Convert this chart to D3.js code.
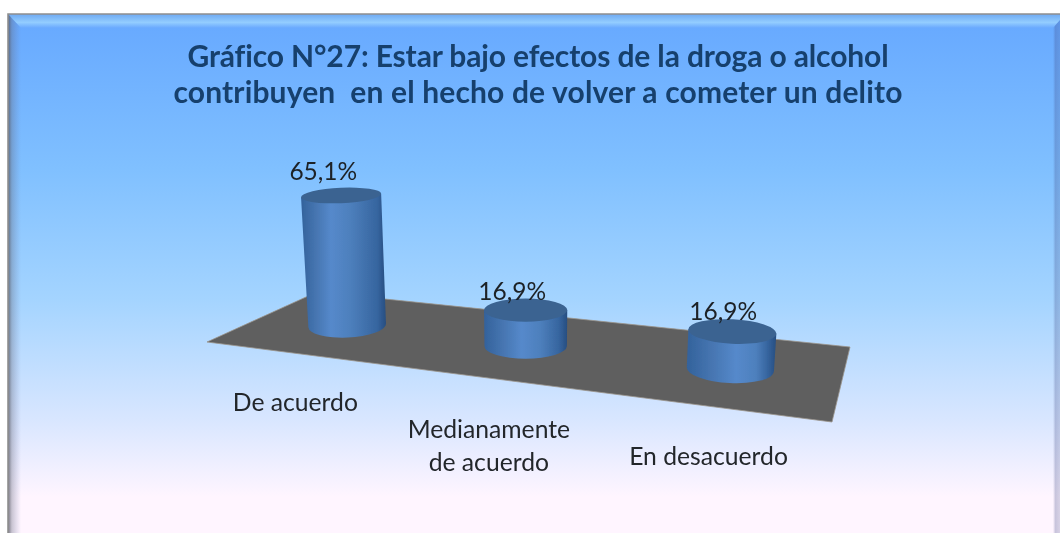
<!DOCTYPE html>
<html lang="es">
<head>
<meta charset="UTF-8">
<title>Gráfico N°27</title>
<script src="https://cdn.jsdelivr.net/npm/d3@7"></script>
<style>
    html, body { margin: 0; padding: 0; background: #fff; overflow: hidden; }
    svg { display: block; }
    text { font-family: Lato, "Open Sans", sans-serif; white-space: pre; font-variant-ligatures: none; }
</style>
</head>
<body>
<script>
const categories = ['De acuerdo', 'Medianamente de acuerdo', 'En desacuerdo']
const values = [65.1, 16.9, 16.9]
const valueLabels = ['65,1%', '16,9%', '16,9%']
const categoryLines = [['De acuerdo'], ['Medianamente', 'de acuerdo'], ['En desacuerdo']]
const titleLines = ['Gráfico N°27: Estar bajo efectos de la droga o alcohol', 'contribuyen  en el hecho de volver a cometer un delito']

const width = 1060
const height = 533

const svg = d3.select('body').append('svg').attr('width', width).attr('height', height)
const defs = svg.append('defs')

// soft look of the scaled up picture
defs.append('filter').attr('id', 'soft').append('feGaussianBlur').attr('stdDeviation', 0.45)

function addGradient(id, stops, horizontal) {
    const g = defs.append('linearGradient').attr('id', id)
        .attr('x1', 0).attr('y1', 0)
        .attr('x2', horizontal ? 1 : 0).attr('y2', horizontal ? 0 : 1)
    g.selectAll('stop').data(stops).enter().append('stop')
        .attr('offset', (d) => d[0])
        .attr('stop-color', (d) => d[1])
}

addGradient('bg', [[0, '#66a8ff'], [0.3, '#80c0ff'], [0.55, '#a4d4ff'], [0.78, '#d8e6ff'], [0.93, '#fff5ff'], [1, '#fff5ff']])
addGradient('bevelTop', [[0, '#6ea9f2'], [0.6, '#93cdff'], [1, '#69a9fe']])
addGradient('bevelLeft', [[0, 'rgba(85,85,95,0.8)'], [0.3, 'rgba(100,105,125,0.35)'], [1, 'rgba(110,120,170,0)']], true)
addGradient('bevelRight', [[0, 'rgba(60,70,130,0)'], [0.35, 'rgba(60,70,130,0.28)'], [1, 'rgba(60,70,130,0.2)']], true)

// frame
const frame = { x: 8, y: 14, w: 1052, h: 519 }
svg.append('rect').attr('x', frame.x).attr('y', frame.y).attr('width', frame.w).attr('height', frame.h)
    .attr('fill', 'url(#bg)')
svg.append('path').attr('d', 'M8 14H1060V20L1053 28H21Z')
    .attr('fill', 'url(#bevelTop)')
svg.append('path').attr('d', 'M8 14L21 28V533H8Z')
    .attr('fill', 'url(#bevelLeft)')
svg.append('path').attr('d', 'M1060 20L1053 28V533H1060Z')
    .attr('fill', 'url(#bevelRight)')
svg.append('path').attr('d', `M8 533V14H1060`).attr('fill', 'none').attr('stroke', '#8f8f8f').attr('stroke-width', 1.6)

// floor corners: back left, back right, front right, front left
const floor = [[317, 292], [850, 347], [832, 422], [207, 342]]

// unit square -> floor quad
function makeHomography(q) {
    const [p0, p1, p2, p3] = q
    const dx1 = p1[0] - p2[0], dx2 = p3[0] - p2[0], sx = p0[0] - p1[0] + p2[0] - p3[0]
    const dy1 = p1[1] - p2[1], dy2 = p3[1] - p2[1], sy = p0[1] - p1[1] + p2[1] - p3[1]
    const det = dx1 * dy2 - dx2 * dy1
    const g = (sx * dy2 - dx2 * sy) / det
    const h = (dx1 * sy - sx * dy1) / det
    const a = p1[0] - p0[0] + g * p1[0], b = p3[0] - p0[0] + h * p3[0], c = p0[0]
    const d = p1[1] - p0[1] + g * p1[1], e = p3[1] - p0[1] + h * p3[1], f = p0[1]
    return (u, v) => {
        const w = g * u + h * v + 1
        return [(a * u + b * v + c) / w, (d * u + e * v + f) / w]
    }
}
const project = makeHomography(floor)

const uScale = d3.scalePoint().domain(categories).range([0.004, 1.004]).padding(0.5)
const yScale = d3.scaleLinear().domain([0, 70]).range([0, 144])
const depth = d3.scaleLinear().domain([0, 1]).range([0.94, 1.12])
const highlight = d3.scaleLinear().domain([0, 1]).range([0.3, 0.6])
const labelShift = d3.scaleLinear().domain([0, 1]).range([-20, -7])
const categoryShift = d3.scaleLinear().domain([0, 1]).range([-59.5, -14.5])
const labelLift = d3.scaleLinear().domain([36, 128]).range([1, -8])

const centerX = 527
const chart = svg.append('g').attr('filter', 'url(#soft)')

chart.append('path').attr('d', d3.line()(floor) + 'Z')
    .attr('fill', '#5f5f5f').attr('stroke', '#9a948c').attr('stroke-width', 0.8)

const bars = categories.map((c, i) => {
    const u = uScale(c)
    const [bx, by] = project(u, 0.52)
    const s = depth(u)
    const h = yScale(values[i]) * s
    const rx = 40 * s
    const ry = 12.5 * s
    return {
        c, i, u, bx, by, h, rx, ry,
        tx: bx + (bx - centerX) * 0.00026 * h,
        ty: by - h,
        trx: rx * (1 + 0.00025 * h),
        tryy: ry * (1 - 0.0028 * h),
        tilt: (bx - centerX) * 0.014
    }
})

bars.forEach((d) => {
    addGradient(`cyl${d.i}`, [
        [0, '#33629b'],
        [highlight(d.u) * 0.55, '#4877b3'],
        [highlight(d.u), '#5589cb'],
        [highlight(d.u) + 0.22, '#4e80bd'],
        [0.9, '#36659f'],
        [1, '#274d80']
    ], true)
})

const cyl = chart.selectAll('g.cyl').data(bars).enter().append('g').attr('class', 'cyl')

cyl.append('path')
    .attr('d', (d) => {
        const a = d.tilt * Math.PI / 180
        const cx = Math.cos(a), sn = Math.sin(a)
        return `M${d.tx - d.trx * cx} ${d.ty - d.trx * sn}` +
            `L${d.bx - d.rx * cx} ${d.by - d.rx * sn}` +
            `A${d.rx} ${d.ry} ${d.tilt} 0 0 ${d.bx + d.rx * cx} ${d.by + d.rx * sn}` +
            `L${d.tx + d.trx * cx} ${d.ty + d.trx * sn}Z`
    })
    .attr('fill', (d) => `url(#cyl${d.i})`)

cyl.append('ellipse')
    .attr('rx', (d) => d.trx)
    .attr('ry', (d) => d.tryy)
    .attr('transform', (d) => `translate(${d.tx},${d.ty}) rotate(${d.tilt})`)
    .attr('fill', '#3b6391')

// value labels
chart.selectAll('text.value').data(bars).enter().append('text')
    .attr('class', 'value')
    .attr('x', (d) => d.tx + labelShift(d.u))
    .attr('y', (d) => d.ty - d.tryy + labelLift(d.h))
    .attr('text-anchor', 'middle')
    .attr('font-size', 24.5)
    .attr('fill', '#1d2126')
    .text((d) => valueLabels[d.i])

// category labels
const categoryY = [411, 438, 465]
const categoryLeading = 33
chart.selectAll('text.category').data(bars).enter().append('text')
    .attr('class', 'category')
    .attr('text-anchor', 'middle')
    .attr('font-size', 24.7)
    .attr('fill', '#24272b')
    .each(function (d) {
        d3.select(this).selectAll('tspan').data(categoryLines[d.i]).enter().append('tspan')
            .attr('x', d.bx + categoryShift(d.u))
            .attr('y', (t, j) => categoryY[d.i] + j * categoryLeading)
            .text((t) => t)
    })

// title
const titleSpacing = [-0.13, 0.15]
chart.selectAll('text.title').data(titleLines).enter().append('text')
    .attr('class', 'title')
    .attr('x', 538)
    .attr('y', (d, i) => 67 + i * 36)
    .attr('text-anchor', 'middle')
    .attr('font-size', 30)
    .attr('font-weight', 700)
    .attr('letter-spacing', (d, i) => titleSpacing[i])
    .attr('fill', '#17406d')
    .text((d) => d)
</script>
</body>
</html>
